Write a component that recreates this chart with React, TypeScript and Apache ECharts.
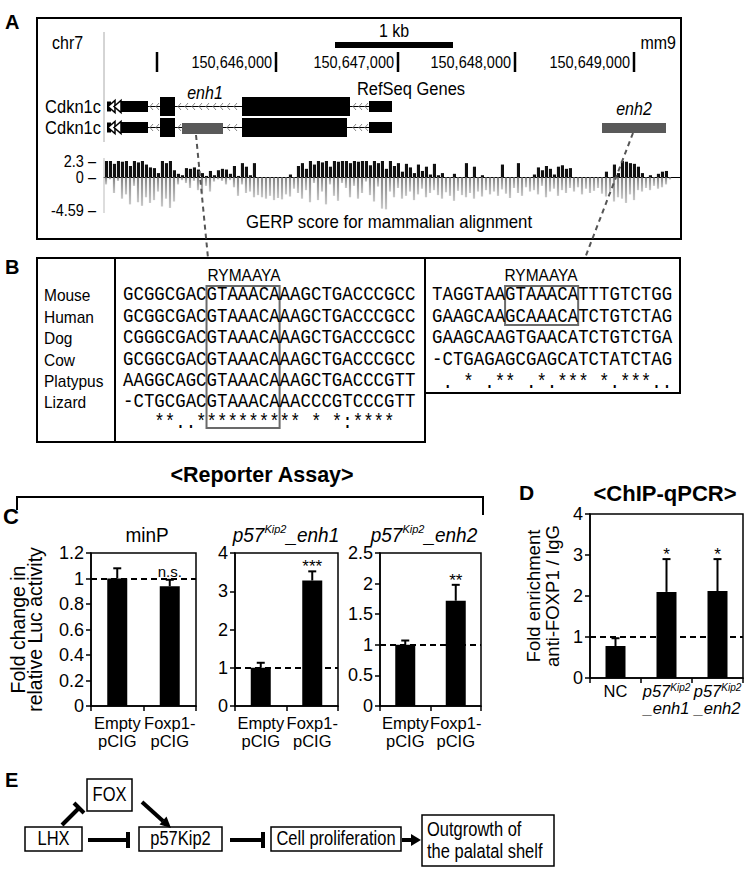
import React, { useEffect, useRef } from 'react';
import * as echarts from 'echarts';

const FONT = 'Liberation Sans, Arial, sans-serif';
const MONO = 'Liberation Mono, Courier New, monospace';

// ---------- Panel A data ----------
const genomeTicks = ['150,646,000', '150,647,000', '150,648,000', '150,649,000'];
const genomeTickX = [157, 276, 398, 515, 634];
const gerpTicks = [2.3, 0, -4.59];
const gerpPos = [
  2.3, 2.3, 1.9, 2.3, 2.2, 2.3, 1.6, 2.3, 2.1, 2.3, 1.8, 1.4,
  1.3, 0.6, 2.3, 2.0, 2.3, 1.0, 0.5, 0.3, 1.3, 1.2, 1.4, 1.1,
  0.6, 0.2, 0.9, 0.3, 1.0, 1.2, 1.1, 0.5, 1.6, 0.2, 2.0, 1.5,
  0.3, 2.0, 0, 0, 0, 0, 0, 0, 0, 0, 0.4, 0,
  1.6, 2.0, 1.2, 2.3, 1.8, 2.3, 2.1, 2.3, 1.5, 2.3, 2.2, 2.3,
  2.3, 2.0, 2.3, 2.2, 2.3, 2.3, 1.7, 2.3, 2.0, 2.3, 1.2, 2.3,
  1.6, 2.0, 0.8, 1.9, 1.4, 0.6, 1.8, 0.9, 1.5, 0.4, 1.9, 0.3,
  0.6, 0, 0, 0.5, 0, 0, 2.0, 0, 1.5, 0, 0.3, 0,
  0, 0, 0, 1.8, 0, 0, 0, 2.0, 0, 0, 0, 0.4,
  1.4, 1.0, 1.6, 1.2, 0.4, 1.5, 1.7, 1.2, 1.3, 0, 0, 0,
  0, 0, 0, 0, 0, 0.8, 0, 1.8, 0.6, 2.3, 2.2, 2.0,
  1.9, 1.5, 0.6, 0, 0.3, 0, 0.5, 0.8, 0.9, 0, 0, 0,
];
const gerpNeg = [
  -1.0, -0.3, -2.2, -0.5, -3.0, -2.4, -3.8, -1.2, -3.5, -4.0, -2.8, -3.6,
  -3.2, -2.0, -4.1, -3.0, -4.3, -3.4, -1.0, -0.4, -0.8, -1.5, -0.5, -1.8,
  -2.4, -1.2, -2.0, -0.6, -0.3, -0.5, -1.0, -0.4, -1.4, -2.6, -1.0, -2.2,
  -2.0, -2.8, -2.5, -2.8, -3.0, -2.6, -3.2, -2.9, -3.1, -2.4, -2.7, -1.6,
  -2.2, -3.0, -1.8, -3.5, -0.8, -3.2, -2.0, -3.8, -1.0, -2.6, -3.3, -0.8,
  -1.5, -2.8, -1.2, -3.0, -2.2, -0.6, -2.5, -3.4, -1.3, -4.4, -4.5, -2.0,
  -2.8, -1.5, -3.0, -2.6, -2.0, -3.2, -2.4, -1.6, -2.8, -2.2, -1.8, -2.5,
  -3.0, -2.1, -2.6, -3.3, -1.9, -2.5, -2.8, -2.2, -3.0, -2.0, -2.7, -1.8,
  -2.4, -2.0, -2.6, -1.7, -2.3, -2.9, -1.5, -2.2, -2.6, -1.4, -2.0, -1.8,
  -2.4, -1.2, -2.8, -2.0, -1.6, -2.6, -1.8, -2.2, -1.5, -2.0, -1.4, -2.4,
  -1.6, -2.2, -1.9, -1.5, -2.3, -2.7, -2.0, -3.4, -2.8, -3.0, -3.6, -2.4,
  -3.2, -1.8, -2.0, -1.5, -1.8, -1.2, -1.6, -1.4, -1.0, -0.3, 0, 0,
];
const gerpBins = gerpPos.map((_, i) => String(i));

// ---------- Panel B data ----------
const species = ['Mouse', 'Human', 'Dog', 'Cow', 'Platypus', 'Lizard'];
const motifName = 'RYMAAYA';
const enh1Seqs = [
  'GCGGCGACGTAAACAAAGCTGACCCGCC',
  'GCGGCGACGTAAACAAAGCTGACCCGCC',
  'CGGGCGACGTAAACAAAGCTGACCCGCC',
  'GCGGCGACGTAAACAAAGCTGACCCGCC',
  'AAGGCAGCGTAAACAAAGCTGACCCGTT',
  '-CTGCGACGTAAACAAACCCGTCCCGTT',
];
const enh1Cons = '   **..********** * *:****';
const enh2Seqs = [
  'TAGGTAAGTAAACATTTGTCTGG',
  'GAAGCAAGCAAACATCTGTCTAG',
  'GAAGCAAGTGAACATCTGTCTGA',
  '-CTGAGAGCGAGCATCTATCTAG',
];
const enh2Cons = ' . * .** .*.*** *.***..';

// ---------- Panel C data ----------
const reporterCats = ['Empty\npCIG', 'Foxp1-\npCIG'];
const minpTicks = [0, 0.2, 0.4, 0.6, 0.8, 1, 1.2];
const minpVals = [1.0, 0.94];
const minpErr = [1.08, 0.99];
const minpSig = ['', 'n.s.'];
const enh1Ticks = [0, 1, 2, 3, 4];
const enh1Vals = [1.0, 3.28];
const enh1Err = [1.13, 3.52];
const enh1Sig = ['', '***'];
const enh2Ticks = [0, 0.5, 1, 1.5, 2, 2.5];
const enh2Vals = [1.0, 1.72];
const enh2Err = [1.07, 1.98];
const enh2Sig = ['', '**'];

// ---------- Panel D data ----------
const chipCats = ['NC', '{i|p57}{s|Kip2}\n{i|_enh1}', '{i|p57}{s|Kip2}\n{i|_enh2}'];
const chipTicks = [0, 1, 2, 3, 4];
const chipVals = [0.78, 2.1, 2.12];
const chipErr = [0.97, 2.9, 2.9];
const chipSig = ['', '*', '*'];
const baseline = 1;

// ---------- helpers ----------
const T = (x: number, y: number, text: string, o: any = {}) => ({
  type: 'text',
  x,
  y,
  scaleY: o.sy ?? 1.12,
  silent: true,
  z: 10,
  style: {
    text,
    fill: '#000',
    fontSize: o.size ?? 16,
    fontFamily: o.family ?? FONT,
    fontWeight: o.weight ?? 'normal',
    fontStyle: o.fstyle ?? 'normal',
    align: o.align ?? 'left',
    textAlign: o.align ?? 'left',
    verticalAlign: o.va ?? 'middle',
    textVerticalAlign: o.va ?? 'middle',
    rich: o.rich,
    lineHeight: o.lh,
  },
});
const R = (x: number, y: number, w: number, h: number, fill = 'none', stroke = '#000', lw = 2) => ({
  type: 'rect',
  silent: true,
  z: 5,
  shape: { x, y, width: w, height: h },
  style: { fill, stroke, lineWidth: lw },
});
const L = (x1: number, y1: number, x2: number, y2: number, stroke = '#000', lw = 2, dash?: number[]) => ({
  type: 'line',
  silent: true,
  z: 5,
  shape: { x1, y1, x2, y2 },
  style: { stroke, lineWidth: lw, lineDash: dash },
});
const PG = (pts: number[][], fill = '#000', stroke = 'none', lw = 1) => ({
  type: 'polygon',
  silent: true,
  z: 6,
  shape: { points: pts },
  style: { fill, stroke, lineWidth: lw },
});
const PL = (pts: number[][], stroke = '#000', lw = 1) => ({
  type: 'polyline',
  silent: true,
  z: 6,
  shape: { points: pts },
  style: { stroke, lineWidth: lw, fill: 'none' },
});

const titleRich = {
  i: { fontSize: 19, fontStyle: 'italic', fontFamily: FONT, color: '#000', lineHeight: 22 },
  s: { fontSize: 11, fontStyle: 'italic', fontFamily: FONT, color: '#000', verticalAlign: 'top', lineHeight: 22 },
};

function geneModel(): any[] {
  const els: any[] = [];
  const rows = [106.5, 127.5];
  rows.forEach((cy, r) => {
    els.push(L(108, cy, 392, cy, '#000', 1));
    const chev: number[] = [];
    for (let x = 150; x < 158; x += 6) chev.push(x);
    for (let x = 178; x < 240; x += 7) {
      if (r === 1 && x > 178 && x < 224) continue;
      chev.push(x);
    }
    for (let x = 353; x < 367; x += 6) chev.push(x);
    chev.forEach((x) => els.push(PL([[x + 3, cy - 3.5], [x, cy], [x + 3, cy + 3.5]], '#888', 1)));
    els.push(R(107, cy - 5, 4, 10, '#000', 'none', 0));
    els.push(PG([[108, cy], [115, cy - 6], [115, cy + 6]], '#fff', '#000', 1.5));
    els.push(PG([[114, cy], [121, cy - 6], [121, cy + 6]], '#fff', '#000', 1.5));
    els.push(R(121, cy - 5.5, 27, 11, '#000', 'none', 0));
    els.push(R(160, cy - 9.5, 15, 19, '#000', 'none', 0));
    els.push(R(242, cy - 9.5, r === 0 ? 108 : 105, 19, '#000', 'none', 0));
    els.push(R(369, cy - 5.5, 23, 11, '#000', 'none', 0));
  });
  els.push(R(182, 123, 41, 11, '#595959', 'none', 0));
  els.push(R(602, 123, 64, 10, '#595959', 'none', 0));
  return els;
}

function panelA(): any[] {
  const els: any[] = [];
  els.push(T(5, 22, 'A', { size: 20, weight: 'bold', sy: 1 }));
  els.push(R(37, 18, 644, 221, 'none', '#000', 2));
  els.push(T(52, 43, 'chr7', { size: 16 }));
  els.push(T(676, 43, 'mm9', { size: 16, align: 'right' }));
  els.push(T(394, 31, '1 kb', { size: 16, align: 'center' }));
  els.push(R(335, 42, 118, 6, '#000', 'none', 0));
  genomeTickX.forEach((x) => els.push(L(x, 52, x, 72, '#000', 2.5)));
  genomeTicks.forEach((t, i) => els.push(T(genomeTickX[i + 1] - 4, 62, t, { size: 14.5, align: 'right' })));
  els.push(L(104, 32, 104, 142, '#aaa', 1));
  els.push(T(101, 107, 'Cdkn1c', { size: 16.5, align: 'right' }));
  els.push(T(101, 128, 'Cdkn1c', { size: 16.5, align: 'right' }));
  els.push(T(411, 89, 'RefSeq Genes', { size: 16.5, align: 'center' }));
  els.push(T(205, 93, 'enh1', { size: 16, align: 'center', fstyle: 'italic' }));
  els.push(T(634, 109, 'enh2', { size: 16, align: 'center', fstyle: 'italic' }));
  els.push(...geneModel());
  els.push(L(104, 158, 104, 213, '#bbb', 1));
  els.push(T(389, 222, 'GERP score for mammalian alignment', { size: 16.8, align: 'center' }));
  els.push(L(196, 135, 208, 258, '#555', 2, [5, 4]));
  els.push(L(633, 133, 585, 258, '#555', 2, [5, 4]));
  return els;
}

function panelB(): any[] {
  const els: any[] = [];
  els.push(T(5, 267, 'B', { size: 20, weight: 'bold', sy: 1 }));
  els.push(R(37, 258, 388, 184, 'none', '#000', 2));
  els.push(L(115, 258, 115, 442, '#000', 2));
  els.push(R(425, 258, 255, 135, 'none', '#000', 2));
  const rowY = (i: number) => 295 + i * 21.4;
  species.forEach((s, i) => els.push(T(44, rowY(i), s, { size: 15.5 })));
  els.push(T(244, 275, motifName, { size: 15.5, align: 'center' }));
  els.push(T(541, 275, motifName, { size: 15.5, align: 'center' }));
  const fs = 17.4;
  enh1Seqs.forEach((s, i) => els.push(T(123, rowY(i), s, { size: fs, family: MONO, sy: 1.15 })));
  els.push(T(123, 423, enh1Cons, { size: fs, family: MONO, sy: 1.15 }));
  enh2Seqs.forEach((s, i) => els.push(T(432, rowY(i), s, { size: fs, family: MONO, sy: 1.15 })));
  els.push(T(432, 383, enh2Cons, { size: fs, family: MONO, sy: 1.15 }));
  const cw = fs * 0.6;
  els.push(R(123 + 8 * cw, 286, 7 * cw, 142, 'none', '#6a6a6a', 2));
  els.push(R(432 + 7 * cw, 286, 7 * cw, 39, 'none', '#6a6a6a', 2));
  return els;
}

function panelCD(): any[] {
  const els: any[] = [];
  els.push(T(262, 475, '<Reporter Assay>', { size: 21.5, weight: 'bold', align: 'center', sy: 1 }));
  els.push(PL([[17, 510], [17, 497], [483, 497], [483, 515]], '#000', 2));
  els.push(T(3, 516, 'C', { size: 22, weight: 'bold', sy: 1 }));
  els.push(T(147, 535, 'minP', { size: 19, align: 'center', sy: 1.05 }));
  els.push(T(286, 535, '{i|p57}{s|Kip2}{i|_enh1}', { align: 'center', rich: titleRich, sy: 1.05 }));
  els.push(T(424, 535, '{i|p57}{s|Kip2}{i|_enh2}', { align: 'center', rich: titleRich, sy: 1.05 }));
  els.push(T(519, 492, 'D', { size: 21, weight: 'bold', sy: 1 }));
  els.push(T(665, 493, '<ChIP-qPCR>', { size: 22, weight: 'bold', align: 'center', sy: 1 }));
  return els;
}

function panelE(): any[] {
  const els: any[] = [];
  els.push(T(5, 780, 'E', { size: 20, weight: 'bold', sy: 1 }));
  const fs = 16.5;
  els.push(R(87, 779, 45, 32, 'none', '#000', 1.5));
  els.push(T(109.5, 795, 'FOX', { size: fs, align: 'center', sy: 1.18 }));
  els.push(R(25, 827, 57, 24, 'none', '#000', 1.5));
  els.push(T(53.5, 839, 'LHX', { size: fs, align: 'center', sy: 1.18 }));
  els.push(R(139, 827, 83, 24, 'none', '#000', 1.5));
  els.push(T(180.5, 839, 'p57Kip2', { size: fs, align: 'center', sy: 1.18 }));
  els.push(R(271, 827, 130, 24, 'none', '#000', 1.5));
  els.push(T(336, 839, 'Cell proliferation', { size: fs, align: 'center', sy: 1.18 }));
  els.push(R(422, 815, 132, 51, 'none', '#000', 1.5));
  els.push(T(427, 830, 'Outgrowth of', { size: fs, sy: 1.18 }));
  els.push(T(427, 852, 'the palatal shelf', { size: fs, sy: 1.18 }));
  els.push(L(62, 825, 79, 808, '#000', 4));
  els.push(L(74, 803, 84, 813, '#000', 4));
  els.push(L(142, 802, 163, 821, '#000', 4));
  els.push(PG([[171, 828], [159.5, 824.5], [166.5, 816.5]]));
  els.push(L(88, 840, 128, 840, '#000', 4));
  els.push(L(128, 832, 128, 848, '#000', 4));
  els.push(L(230, 840, 263, 840, '#000', 4));
  els.push(L(263, 832, 263, 848, '#000', 4));
  els.push(L(402, 840, 412, 840, '#000', 4));
  els.push(PG([[421, 840], [411, 834], [411, 846]]));
  return els;
}

function valueAxis(grid: number, ticks: number[], name?: string, nameGap?: number, nameSize?: number, nameLH?: number) {
  return {
    type: 'value',
    gridIndex: grid,
    min: ticks[0],
    max: ticks[ticks.length - 1],
    interval: ticks[1] - ticks[0],
    name,
    nameLocation: 'middle',
    nameRotate: 90,
    nameGap,
    nameTextStyle: { fontSize: nameSize, lineHeight: nameLH, color: '#000', fontFamily: FONT },
    axisLine: { show: true, lineStyle: { color: '#000', width: 1.5 } },
    axisTick: { show: true, inside: false, length: 5, lineStyle: { color: '#000', width: 1.5 } },
    splitLine: { show: false },
    axisLabel: { fontSize: 18, color: '#000', fontFamily: FONT, margin: 7 },
  };
}

function catAxis(grid: number, cats: string[], margin: number, rich?: any) {
  return {
    type: 'category',
    gridIndex: grid,
    data: cats,
    boundaryGap: true,
    axisLine: { show: true, onZero: false, lineStyle: { color: '#000', width: 1.5 } },
    axisTick: { show: true, inside: false, length: 5, interval: 0, alignWithLabel: false, lineStyle: { color: '#000', width: 1.5 } },
    axisLabel: { interval: 0, fontSize: 16.5, lineHeight: 18, color: '#000', fontFamily: FONT, margin, rich },
  };
}

function barSeries(grid: number, vals: number[]) {
  return {
    type: 'bar',
    xAxisIndex: grid,
    yAxisIndex: grid,
    data: vals,
    barWidth: 20,
    itemStyle: { color: '#000' },
    silent: true,
    markLine: {
      silent: true,
      symbol: ['none', 'none'],
      label: { show: false },
      lineStyle: { color: '#000', width: 2, type: [6, 4] },
      data: [{ yAxis: baseline }],
    },
  };
}

function errSeries(grid: number, vals: number[], errs: number[], sigs: string[], sigSize: number) {
  return {
    type: 'custom',
    xAxisIndex: grid,
    yAxisIndex: grid,
    silent: true,
    z: 5,
    data: vals.map((v, i) => [i, v, errs[i]]),
    renderItem: (params: any, api: any) => {
      const i = api.value(0);
      const p0 = api.coord([i, api.value(1)]);
      const p1 = api.coord([i, api.value(2)]);
      const children: any[] = [
        { type: 'line', shape: { x1: p0[0], y1: p0[1], x2: p1[0], y2: p1[1] }, style: { stroke: '#000', lineWidth: 2 } },
        { type: 'line', shape: { x1: p1[0] - 4, y1: p1[1], x2: p1[0] + 4, y2: p1[1] }, style: { stroke: '#000', lineWidth: 2 } },
      ];
      const s = sigs[params.dataIndex];
      if (s) {
        children.push({
          type: 'text',
          x: p1[0],
          y: p1[1] + (s === 'n.s.' ? -1 : 4),
          style: {
            text: s,
            fill: '#000',
            fontSize: sigSize,
            fontFamily: FONT,
            align: 'center',
            textAlign: 'center',
            verticalAlign: 'bottom',
            textVerticalAlign: 'bottom',
          },
        });
      }
      return { type: 'group', children };
    },
  };
}

function buildOption(): any {
  const gridBox = { show: true, borderColor: '#000', borderWidth: 1.5, backgroundColor: 'transparent', containLabel: false };
  const chipRich = {
    i: { fontSize: 16.5, fontStyle: 'italic', fontFamily: FONT, color: '#000', lineHeight: 17 },
    s: { fontSize: 10, fontStyle: 'italic', fontFamily: FONT, color: '#000', verticalAlign: 'top', lineHeight: 17 },
  };
  return {
    animation: false,
    backgroundColor: '#fff',
    grid: [
      { left: 104, top: 161, width: 576, height: 49, show: false },
      { left: 91, top: 553, width: 105, height: 153, ...gridBox },
      { left: 235, top: 553, width: 103, height: 153, ...gridBox },
      { left: 380, top: 553, width: 101, height: 153, ...gridBox },
      { left: 590, top: 514, width: 153, height: 164, ...gridBox },
    ],
    xAxis: [
      {
        type: 'category',
        gridIndex: 0,
        data: gerpBins,
        boundaryGap: true,
        axisLine: { show: true, onZero: true, lineStyle: { color: '#000', width: 1 } },
        axisTick: { show: false },
        axisLabel: { show: false },
      },
      catAxis(1, reporterCats, 8),
      catAxis(2, reporterCats, 8),
      catAxis(3, reporterCats, 8),
      catAxis(4, chipCats, 4, chipRich),
    ],
    yAxis: [
      { type: 'value', gridIndex: 0, min: gerpTicks[2], max: gerpTicks[0], show: false },
      valueAxis(1, minpTicks, 'Fold change in\nrelative Luc activity', 48, 19.5, 17),
      valueAxis(2, enh1Ticks),
      valueAxis(3, enh2Ticks),
      valueAxis(4, chipTicks, 'Fold enrichment\nanti-FOXP1 / IgG', 28, 18.5, 19),
    ],
    series: [
      {
        type: 'bar',
        xAxisIndex: 0,
        yAxisIndex: 0,
        data: gerpPos,
        barWidth: '78%',
        barGap: '-100%',
        itemStyle: { color: '#111' },
        silent: true,
      },
      {
        type: 'bar',
        xAxisIndex: 0,
        yAxisIndex: 0,
        data: gerpNeg,
        barWidth: '55%',
        barGap: '-100%',
        itemStyle: {
          color: new echarts.graphic.LinearGradient(0, 0, 0, 1, [
            { offset: 0, color: '#808080' },
            { offset: 1, color: '#c8c8c8' },
          ]),
        },
        silent: true,
      },
      barSeries(1, minpVals),
      errSeries(1, minpVals, minpErr, minpSig, 15),
      barSeries(2, enh1Vals),
      errSeries(2, enh1Vals, enh1Err, enh1Sig, 17),
      barSeries(3, enh2Vals),
      errSeries(3, enh2Vals, enh2Err, enh2Sig, 17),
      barSeries(4, chipVals),
      errSeries(4, chipVals, chipErr, chipSig, 17),
    ],
  };
}

export default function App() {
  const ref = useRef<HTMLDivElement>(null);
  useEffect(() => {
    document.body.style.margin = '0';
    const chart = echarts.init(ref.current as HTMLDivElement, undefined, { renderer: 'svg' });
    chart.setOption(buildOption());
    const gerpLabels = gerpTicks.map((v) => {
      const p = chart.convertToPixel({ gridIndex: 0 } as any, [0, v]) as number[];
      return T(96, p[1], `${v} –`, { size: 14.5, align: 'right' });
    });
    chart.setOption({
      graphic: { elements: [...panelA(), ...gerpLabels, ...panelB(), ...panelCD(), ...panelE()] },
    });
    return () => chart.dispose();
  }, []);
  return <div ref={ref} style={{ width: 748, height: 870 }} />;
}
